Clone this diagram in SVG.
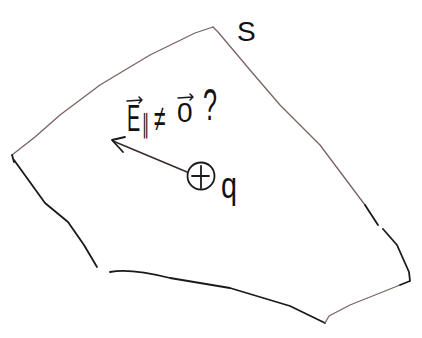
<svg xmlns="http://www.w3.org/2000/svg" width="422" height="338" viewBox="0 0 422 338">
<style>
.thin{fill:none;stroke:#7a6262;stroke-width:1.3;stroke-linecap:round;stroke-linejoin:round}
.dark{fill:none;stroke:#1a1a1a;stroke-width:1.8;stroke-linecap:round;stroke-linejoin:round}
.t{font-family:"Liberation Sans",Arial,sans-serif;fill:#111}
</style>
<rect width="422" height="338" fill="#ffffff"/>
<g id="surface">
<path class="thin" d="M213,27 L195,33 L150,55 L100,85 L60,115 L35,137 L12,155"/>
<path class="dark" d="M12,155 L14,162"/>
<path class="dark" d="M14,160 L45,203 L68,222 L84,245 L97,267"/>
<path class="dark" d="M110,272 Q130,268 170,278 L230,288 L290,306 L325,323"/>
<path class="thin" d="M325,323 L329,316 L350,305 L400,285"/>
<path class="dark" d="M400,285 L410,281 L409,272 L397,245 L383,229"/>
<path class="thin" d="M213,27 L218,32 L250,70 L280,105 L320,145 L350,185 L365,205"/>
<path class="dark" d="M365,205 L378,225"/>
</g>
<g id="connectors">
<path class="thin" d="M187,172 L113,141" style="stroke:#3a2a2a;stroke-width:1.6"/>
<path class="dark" d="M125,137 L112,140 L123,152"/>
</g>
<g id="charge">
<circle cx="201" cy="176" r="13.5" class="dark"/>
<path class="dark" d="M201,166 L201,188 M192,176 L209,176"/>
<text class="t" x="221" y="198" font-size="36" textLength="16" lengthAdjust="spacingAndGlyphs">q</text>
</g>
<g id="label-S">
<text class="t" x="237" y="41" font-size="28">S</text>
</g>
<g id="label-E">
<text class="t" transform="translate(127,131) scale(0.55,1)" x="0" y="0" font-size="36">E<tspan dx="3" dy="2" font-size="26">∥</tspan></text>
<path class="dark" d="M127,101 L142,100 M139,97 L142,100 L139,103" style="stroke-width:1.5"/>
<text class="t" transform="translate(154,131) scale(0.75,1.3)" x="0" y="0" font-size="28">≠</text>
<text class="t" x="177" y="122" font-size="28">0</text>
<path class="dark" d="M178,98 L193,97 M190,94 L193,97 L190,100" style="stroke-width:1.5"/>
<text class="t" x="203" y="120" font-size="44" textLength="14" lengthAdjust="spacingAndGlyphs">?</text>
</g>
</svg>
